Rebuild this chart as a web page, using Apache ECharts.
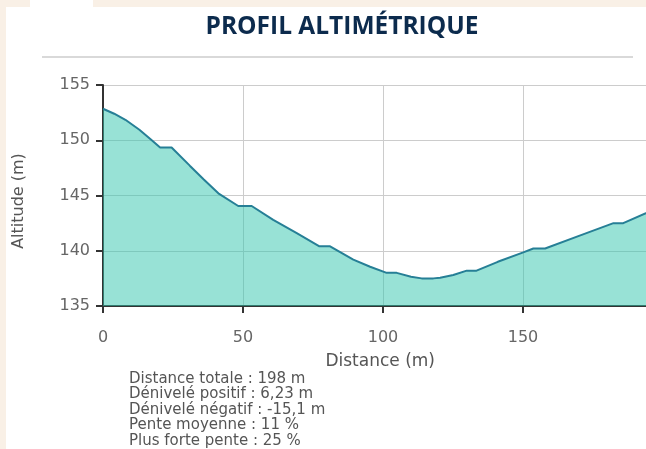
<!DOCTYPE html>
<html><head><meta charset="utf-8">
<script src="https://cdn.jsdelivr.net/npm/echarts@6/dist/echarts.min.js"></script>
<style>html,body{margin:0;padding:0;background:#fff}#c{width:646px;height:449px}</style>
</head><body><div id="c"></div>
<script>
const titleText = 'PROFIL ALTIMÉTRIQUE';
const xAxisName = 'Distance (m)';
const yAxisName = 'Altitude (m)';
const distances = [0, 4, 8, 13, 17, 20.4, 24.5, 31, 36, 41.2, 48.3, 53.1, 60.8, 69.2, 77.3, 81.1, 89.4, 95.4, 101.3, 104.9, 110, 113.8, 118, 120.4, 125.1, 129.9, 133.4, 141, 150.1, 153.7, 157.9, 170, 182.3, 185.8, 193.9, 198];
const altitudes = [152.85, 152.4, 151.85, 150.95, 150.1, 149.35, 149.35, 147.7, 146.45, 145.2, 144.05, 144.05, 142.8, 141.6, 140.4, 140.4, 139.2, 138.55, 138.0, 138.0, 137.65, 137.5, 137.5, 137.55, 137.8, 138.2, 138.2, 139.0, 139.85, 140.2, 140.2, 141.35, 142.5, 142.5, 143.4, 143.9];
const statLines = [
  'Distance totale : 198 m',
  'Dénivelé positif : 6,23 m',
  'Dénivelé négatif : -15,1 m',
  'Pente moyenne : 11 %',
  'Plus forte pente : 25 %'
];
const xMin = 0, xMax = 198, xStep = 50;
const yMin = 135, yMax = 155, yStep = 5;

const chart = echarts.init(document.getElementById('c'), null, {renderer: 'canvas'});
const pts = distances.map((d, i) => [d, altitudes[i]]);
const labelFont = 'DejaVu Sans';
chart.setOption({
  animation: false,
  backgroundColor: '#ffffff',
  title: {
    text: titleText,
    left: 337, top: 10, textAlign: 'center',
    textStyle: {fontFamily: 'Open Sans', fontWeight: 'bold', fontSize: 24.5, color: '#0c2b4d'}
  },
  grid: {left: 103, top: 85, height: 221, width: 554.4, containLabel: false, outerBoundsMode: 'none'},
  xAxis: {
    type: 'value', min: xMin, max: xMax, interval: xStep,
    name: xAxisName, nameLocation: 'middle', nameGap: 47,
    nameTextStyle: {fontFamily: labelFont, fontSize: 17, color: '#555'},
    axisLine: {show: true, onZero: false, lineStyle: {color: '#333', width: 2}},
    axisTick: {show: true, length: 7, lineStyle: {color: '#333', width: 2}},
    axisLabel: {margin: 24, fontFamily: labelFont, fontSize: 16, color: '#666', showMaxLabel: false},
    splitLine: {show: true, lineStyle: {color: '#cccccc', width: 1}}
  },
  yAxis: {
    type: 'value', min: yMin, max: yMax, interval: yStep,
    name: yAxisName, nameLocation: 'middle', nameGap: 76, nameRotate: 90,
    nameTextStyle: {fontFamily: labelFont, fontSize: 16, color: '#555', padding: [0, 11, 0, 0]},
    axisLine: {show: true, lineStyle: {color: '#333', width: 2}},
    axisTick: {show: true, length: 7, lineStyle: {color: '#333', width: 2}},
    axisLabel: {margin: 13, fontFamily: labelFont, fontSize: 16, color: '#666'},
    splitLine: {show: true, lineStyle: {color: '#cccccc', width: 1}}
  },
  series: [{
    type: 'line', data: pts, showSymbol: false, symbol: 'none', smooth: false,
    lineStyle: {color: '#267f96', width: 2},
    areaStyle: {color: '#31c5ad', opacity: 0.5, origin: 'start'},
    z: 1
  }],
  graphic: [
    {type: 'rect', left: 0, top: 0, shape: {width: 30, height: 7}, style: {fill: '#f9f0e6'}, silent: true},
    {type: 'rect', left: 93, top: 0, shape: {width: 553, height: 7}, style: {fill: '#f9f0e6'}, silent: true},
    {type: 'rect', left: 0, top: 0, shape: {width: 6, height: 449}, style: {fill: '#f9f0e6'}, silent: true},
    {type: 'line', shape: {x1: 42, y1: 57, x2: 633, y2: 57}, style: {stroke: '#d9d9d9', lineWidth: 2}, silent: true},
    {type: 'text', x: 129, y: 371, silent: true,
     style: {text: statLines.join('\n'), font: '15px "DejaVu Sans"', fill: '#555', lineHeight: 15.5}}
  ]
});
</script></body></html>
